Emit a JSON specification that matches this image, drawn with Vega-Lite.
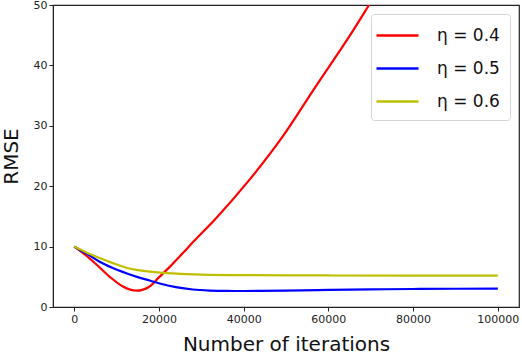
{
  "$schema": "https://vega.github.io/schema/vega-lite/v6.json",
  "width": 466,
  "height": 302,
  "autosize": {"type": "none"},
  "padding": {"left": 53, "top": 5, "right": 3, "bottom": 47},
  "background": "white",
  "config": {
    "font": "DejaVu Sans",
    "view": {"stroke": "#222", "strokeWidth": 1.2},
    "axis": {
      "grid": false,
      "domainColor": "#222",
      "tickColor": "#222",
      "labelColor": "#222",
      "labelFontSize": 11,
      "tickSize": 4,
      "titleFontSize": 20,
      "titleFontWeight": "normal",
      "titleColor": "#111"
    }
  },
  "data": {
    "values": [
      {"iter": 0, "rmse": 10.0, "eta": "η = 0.4"},
      {"iter": 2500, "rmse": 8.7, "eta": "η = 0.4"},
      {"iter": 5000, "rmse": 7.2, "eta": "η = 0.4"},
      {"iter": 8400, "rmse": 5.0, "eta": "η = 0.4"},
      {"iter": 11500, "rmse": 3.4, "eta": "η = 0.4"},
      {"iter": 14700, "rmse": 2.7, "eta": "η = 0.4"},
      {"iter": 17800, "rmse": 3.4, "eta": "η = 0.4"},
      {"iter": 20000, "rmse": 4.9, "eta": "η = 0.4"},
      {"iter": 22500, "rmse": 6.6, "eta": "η = 0.4"},
      {"iter": 25600, "rmse": 8.9, "eta": "η = 0.4"},
      {"iter": 28000, "rmse": 10.7, "eta": "η = 0.4"},
      {"iter": 33500, "rmse": 14.7, "eta": "η = 0.4"},
      {"iter": 41300, "rmse": 21.0, "eta": "η = 0.4"},
      {"iter": 49200, "rmse": 28.2, "eta": "η = 0.4"},
      {"iter": 57000, "rmse": 36.5, "eta": "η = 0.4"},
      {"iter": 64900, "rmse": 44.75, "eta": "η = 0.4"},
      {"iter": 69600, "rmse": 50.0, "eta": "η = 0.4"},
      {"iter": 72000, "rmse": 52.7, "eta": "η = 0.4"},
      {"iter": 0, "rmse": 10.0, "eta": "η = 0.5"},
      {"iter": 3000, "rmse": 8.8, "eta": "η = 0.5"},
      {"iter": 6000, "rmse": 7.5, "eta": "η = 0.5"},
      {"iter": 9000, "rmse": 6.5, "eta": "η = 0.5"},
      {"iter": 12300, "rmse": 5.6, "eta": "η = 0.5"},
      {"iter": 15000, "rmse": 4.95, "eta": "η = 0.5"},
      {"iter": 18000, "rmse": 4.35, "eta": "η = 0.5"},
      {"iter": 20200, "rmse": 3.9, "eta": "η = 0.5"},
      {"iter": 24000, "rmse": 3.3, "eta": "η = 0.5"},
      {"iter": 28000, "rmse": 2.9, "eta": "η = 0.5"},
      {"iter": 32000, "rmse": 2.72, "eta": "η = 0.5"},
      {"iter": 36000, "rmse": 2.66, "eta": "η = 0.5"},
      {"iter": 40000, "rmse": 2.65, "eta": "η = 0.5"},
      {"iter": 50000, "rmse": 2.7, "eta": "η = 0.5"},
      {"iter": 60000, "rmse": 2.82, "eta": "η = 0.5"},
      {"iter": 70000, "rmse": 2.92, "eta": "η = 0.5"},
      {"iter": 80000, "rmse": 2.98, "eta": "η = 0.5"},
      {"iter": 90000, "rmse": 3.02, "eta": "η = 0.5"},
      {"iter": 100000, "rmse": 3.04, "eta": "η = 0.5"},
      {"iter": 0, "rmse": 10.0, "eta": "η = 0.6"},
      {"iter": 3000, "rmse": 9.0, "eta": "η = 0.6"},
      {"iter": 6000, "rmse": 8.1, "eta": "η = 0.6"},
      {"iter": 9000, "rmse": 7.3, "eta": "η = 0.6"},
      {"iter": 12300, "rmse": 6.5, "eta": "η = 0.6"},
      {"iter": 15000, "rmse": 6.1, "eta": "η = 0.6"},
      {"iter": 18000, "rmse": 5.85, "eta": "η = 0.6"},
      {"iter": 21000, "rmse": 5.65, "eta": "η = 0.6"},
      {"iter": 25000, "rmse": 5.5, "eta": "η = 0.6"},
      {"iter": 30000, "rmse": 5.37, "eta": "η = 0.6"},
      {"iter": 40000, "rmse": 5.27, "eta": "η = 0.6"},
      {"iter": 60000, "rmse": 5.22, "eta": "η = 0.6"},
      {"iter": 80000, "rmse": 5.2, "eta": "η = 0.6"},
      {"iter": 100000, "rmse": 5.2, "eta": "η = 0.6"}
    ]
  },
  "mark": {"type": "line", "strokeWidth": 2.2, "clip": true, "interpolate": "monotone"},
  "encoding": {
    "x": {
      "field": "iter",
      "type": "quantitative",
      "title": "Number of iterations",
      "scale": {"domain": [-5000, 105000], "nice": false, "zero": false},
      "axis": {"values": [0, 20000, 40000, 60000, 80000, 100000], "format": "d", "labelFlush": false, "titlePadding": 10}
    },
    "y": {
      "field": "rmse",
      "type": "quantitative",
      "title": "RMSE",
      "scale": {"domain": [0, 50], "nice": false},
      "axis": {"values": [0, 10, 20, 30, 40, 50], "titlePadding": 12, "labelFlush": false}
    },
    "color": {
      "field": "eta",
      "type": "nominal",
      "scale": {"domain": ["η = 0.4", "η = 0.5", "η = 0.6"], "range": ["#ff0000", "#0000ff", "#bfbf00"]},
      "legend": {
        "title": null,
        "orient": "none",
        "legendX": 318,
        "legendY": 9,
        "fillColor": "white",
        "strokeColor": "#d5d5d5",
        "cornerRadius": 3,
        "padding": 10,
        "symbolType": "M-1.6,0H2.6",
        "symbolSize": 400,
        "symbolStrokeWidth": 2.5,
        "labelFontSize": 17,
        "labelColor": "#111",
        "labelOffset": 33,
        "rowPadding": 13
      }
    }
  }
}
